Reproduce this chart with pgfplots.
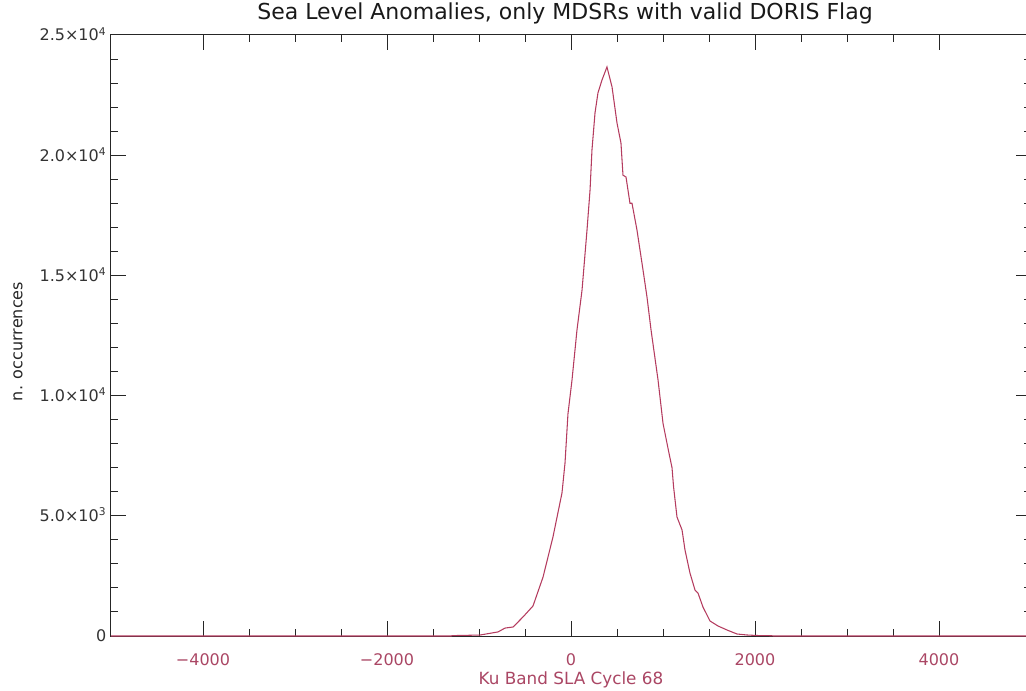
\documentclass[border=0pt]{standalone}
\usepackage{pgfplots}
\pgfplotsset{compat=1.18}
\usepackage{fontspec}
\setmainfont{DejaVu Sans}
\definecolor{curve}{RGB}{180,60,95}
\definecolor{xlab}{RGB}{170,70,100}
\begin{document}
\begin{tikzpicture}
\path[use as bounding box] (0,0) rectangle (769.5pt,517.5pt);
\begin{axis}[
  at={(83.25pt,40.5pt)}, anchor=south west,
  scale only axis, width=690pt, height=450.75pt,
  xmin=-5000, xmax=5000, ymin=0, ymax=25000,
  clip=false,
  scaled ticks=false,
  xtick={-4000,-2000,0,2000,4000},
  xticklabels={−4000,−2000,0,2000,4000},
  ytick={0,5000,10000,15000,20000,25000},
  yticklabels={0,5.0×10\textsuperscript{3},1.0×10\textsuperscript{4},1.5×10\textsuperscript{4},2.0×10\textsuperscript{4},2.5×10\textsuperscript{4}},
  minor x tick num=3, minor y tick num=4,
  tick align=inside,
  major tick length=11.5pt, minor tick length=5.5pt,
  every tick/.style={black!85, line width=0.75pt},
  axis line style={black!85, line width=0.75pt},
  tick label style={font=\fontsize{12}{14}\selectfont},
  xticklabel style={text=xlab, anchor=center, yshift=-18pt},
  yticklabel style={text=black!80, anchor=base east, yshift=-4.5pt},
  title={Sea Level Anomalies, only MDSRs with valid DORIS Flag},
  title style={font=\fontsize{16.5}{19}\selectfont, text=black!90, at={(axis description cs:0.5,1)}, anchor=center, yshift=10.5pt, xshift=-4.5pt},
  xlabel={Ku Band SLA Cycle 68},
  xlabel style={font=\fontsize{12.6}{15}\selectfont, text=xlab, at={(axis description cs:0.5,0)}, anchor=center, yshift=-33pt},
  ylabel={n. occurrences},
  ylabel style={font=\fontsize{12}{14}\selectfont, text=black!85, at={(axis description cs:-0.101,0.49)}, anchor=center},
]
\addplot[curve, line width=0.8pt] coordinates {
(-5000,0) (-1300,0) (-1293,15) (-989,40) (-793,170) (-717,330) (-630,375)
(-522,790) (-413,1250) (-304,2450) (-196,4120) (-98,5950) (-65,7200)
(-33,9240) (11,10650) (65,12730) (120,14390) (174,16890) (207,18550)
(228,20220) (261,21760) (293,22590) (337,23130) (391,23670) (446,22840)
(500,21340) (543,20510) (565,19170) (598,19090) (641,18000) (663,18000)
(717,16890) (783,15220) (826,14100) (870,12730) (946,10650) (1000,8850)
(1060,7700) (1098,7000) (1115,6200) (1152,4950) (1207,4410) (1239,3580) (1293,2620)
(1348,1910) (1380,1790) (1435,1200) (1511,624) (1598,416) (1696,250)
(1804,83) (1913,42) (2022,20) (2185,10) (2200,0) (5000,0)
};
\end{axis}
\end{tikzpicture}
\end{document}
